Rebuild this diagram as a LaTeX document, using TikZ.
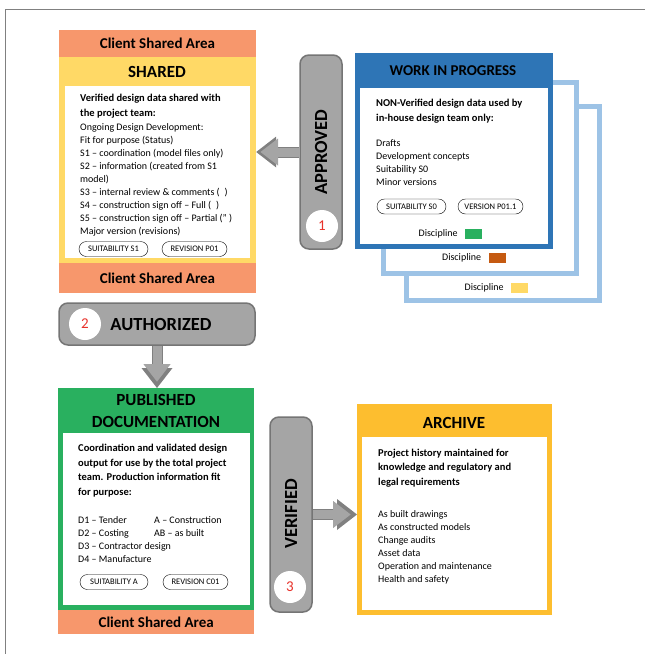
\documentclass[tikz,border=0pt]{standalone}
\usepackage{fontspec}
\setmainfont{Carlito}
\usetikzlibrary{arrows.meta,positioning}

\definecolor{csaorange}{HTML}{F7976C}
\definecolor{sharedyellow}{HTML}{FFD966}
\definecolor{wipblue}{HTML}{2E75B6}
\definecolor{ghostblue}{HTML}{9DC3E6}
\definecolor{pubgreen}{HTML}{29B05F}
\definecolor{archivegold}{HTML}{FDBE2F}
\definecolor{pillgrey}{HTML}{A5A5A5}
\definecolor{pillrim}{HTML}{757575}
\definecolor{badgered}{HTML}{E8312A}
\definecolor{swatchbrown}{HTML}{C55A11}
\definecolor{framegrey}{HTML}{808080}

\tikzset{
  panel/.style={rectangle, inner sep=0pt},
  band/.style={panel, fill=csaorange, minimum width=197pt, font=\bfseries\fontsize{15}{18}\selectfont},
  sheet/.style={panel, fill=white},
  boxtitle/.style={inner sep=0pt, align=center, font=\bfseries\fontsize{17}{22}\selectfont},
  % multi-line texts are placed by the baseline of their last line
  heading/.style={anchor=base west, inner sep=0pt, align=left, font=\bfseries\fontsize{10.5}{14.5}\selectfont},
  items/.style={anchor=base west, inner sep=0pt, align=left, font=\fontsize{10}{13}\selectfont},
  tag/.style={draw, rounded corners=7.5pt, minimum height=15pt, inner sep=1pt, font=\fontsize{8.5}{9}\selectfont},
  ghost/.style={panel, draw=ghostblue, line width=5pt, fill=white, anchor=north west},
  swatch/.style={panel, minimum width=17pt, minimum height=10pt},
  discipline/.style={inner sep=0pt, font=\fontsize{10}{12}\selectfont},
  pill/.style={draw=pillrim, fill=pillgrey, line width=1.5pt, rounded corners=9pt},
  pilllabel/.style={inner sep=0pt, font=\bfseries\fontsize{18.5}{20}\selectfont},
  badge/.style={circle, fill=white, minimum size=32pt, inner sep=0pt, text=badgered, font=\fontsize{15}{15}\selectfont},
  bigarrow/.style={line width=9pt, draw=pillgrey, shorten >=1.3pt,
    -{Triangle[width=27pt,length=17.5pt,line width=0pt]},
    preaction={draw=framegrey, line width=11pt, shorten >=0pt, -{Triangle[width=31pt,length=20pt,line width=0pt]}}}
}

\begin{document}
\begin{tikzpicture}[x=1pt,y=-1pt]
\useasboundingbox (0,0) rectangle (645,654);
\draw[framegrey, line width=1pt] (645,9) -- (5,9) -- (5,654);

% shared
\node[band, minimum height=27pt] (sharedtop) at (157.5,43.5) {Client Shared Area};
\node[panel, fill=sharedyellow, minimum width=197pt, minimum height=206pt] (shared) at (157.5,160) {};
\node[boxtitle] (sharedtitle) at (157,72) {SHARED};
\node[sheet, minimum width=185pt, minimum height=172pt] (sharedsheet) at (157.5,172) {};
\node[band, minimum height=30pt] (sharedbottom) at (157.5,278) {Client Shared Area};
\node[heading] (sharedhead) at (80,116) {Verified design data shared with\\the project team:};
\node[items] (shareditems) at (80,234) {Ongoing Design Development:\\Fit for purpose (Status)\\S1 -- coordination (model files only)\\S2 -- information (created from S1\\model)\\S3 -- internal review \& comments (\enspace)\\S4 -- construction sign off -- Full (\enspace)\\S5 -- construction sign off -- Partial (” )\\Major version (revisions)};
\node[tag, minimum width=69pt] (sharedsuit) at (113.5,249) {SUITABILITY S1};
\node[tag, minimum width=65pt] (sharedrev) at (194.5,249) {REVISION P01};

% work in progress, with the discipline copies behind
\node[ghost, minimum width=193pt, minimum height=194pt] (wipthird) at (403.5,103.5) {};
\node[ghost, minimum width=193pt, minimum height=191pt] (wipsecond) at (380.5,79.5) {};
\node[panel, fill=wipblue, minimum width=198pt, minimum height=196pt, anchor=north west] (wip) at (355,53) {};
\node[boxtitle, font=\bfseries\fontsize{15}{18}\selectfont] (wiptitle) at (453,71) {WORK IN PROGRESS};
\node[sheet, minimum width=188pt, minimum height=156pt, anchor=north west] (wipsheet) at (360,88) {};
\node[heading] (wiphead) at (376,121) {NON-Verified design data used by\\in-house design team only:};
\node[items] (wipitems) at (376,185) {Drafts\\Development concepts\\Suitability S0\\Minor versions};
\node[tag, minimum width=69pt] (wipsuit) at (411.5,206.5) {SUITABILITY S0};
\node[tag, minimum width=65pt] (wipver) at (490.5,206.5) {VERSION P01.1};
\node[swatch, fill=pubgreen] (swatchone) at (473.5,234) {};
\node[discipline, left=7pt of swatchone] (discone) {Discipline};
\node[swatch, fill=swatchbrown] (swatchtwo) at (497,258) {};
\node[discipline, left=7pt of swatchtwo] (disctwo) {Discipline};
\node[swatch, fill=sharedyellow] (swatchthree) at (519.5,287.5) {};
\node[discipline, left=7pt of swatchthree] (discthree) {Discipline};

% approved
\node[pill, minimum width=42pt, minimum height=194pt] (approved) at (321,152) {};
\node[pilllabel, rotate=90] (approvedlabel) at (321,152) {APPROVED};
\node[badge] (badgeone) at (322,226) {1};

% authorized
\node[pill, minimum width=196pt, minimum height=42pt] (authorized) at (157,324) {};
\node[pilllabel] (authorizedlabel) at (161,324) {AUTHORIZED};
\node[badge] (badgetwo) at (85,324) {2};

% published documentation
\node[panel, fill=pubgreen, minimum width=196pt, minimum height=222pt, anchor=north west] (published) at (58,388) {};
\node[boxtitle] (pubtitle) at (156,411) {PUBLISHED\\DOCUMENTATION};
\node[sheet, minimum width=187pt, minimum height=172pt, anchor=north west] (pubsheet) at (63,433) {};
\node[band, minimum width=196pt, minimum height=24pt, anchor=north west] (pubbottom) at (58,610) {Client Shared Area};
\node[heading] (pubhead) at (78,495) {Coordination and validated design\\output for use by the total project\\team. Production information fit\\for purpose:};
\node[items] (pubitems) at (78,562) {D1 -- Tender\\D2 -- Costing\\D3 -- Contractor design\\D4 -- Manufacture};
\node[items] (pubstages) at (154,536) {A -- Construction\\AB -- as built};
\node[tag, minimum width=68pt] (pubsuit) at (114,582) {SUITABILITY A};
\node[tag, minimum width=65pt] (pubrev) at (195.5,582) {REVISION C01};

% verified
\node[pill, minimum width=42pt, minimum height=195pt] (verified) at (291,514.5) {};
\node[pilllabel, rotate=90] (verifiedlabel) at (291,514) {VERIFIED};
\node[badge] (badgethree) at (290,587) {3};

% archive
\node[panel, fill=archivegold, minimum width=195pt, minimum height=211pt, anchor=north west] (archive) at (357,404) {};
\node[boxtitle] (archivetitle) at (454,423) {ARCHIVE};
\node[sheet, minimum width=185pt, minimum height=173pt, anchor=north west] (archivesheet) at (362,437) {};
\node[heading] (archivehead) at (378,485) {Project history maintained for\\knowledge and regulatory and\\legal requirements};
\node[items] (archiveitems) at (378,582) {As built drawings\\As constructed models\\Change audits\\Asset data\\Operation and maintenance\\Health and safety};

% hand-over arrows
\draw[bigarrow, shorten >=4.3pt, preaction={shorten >=3pt}] (approved.west) -- (approved.west -| shared.east);
\draw[bigarrow, shorten >=6.3pt, preaction={shorten >=5pt}] (authorized.south) -- (authorized.south |- published.north);
\draw[bigarrow, shorten >=6.3pt, preaction={shorten >=5pt}] (verified.east) -- (verified.east -| archive.west);
\end{tikzpicture}
\end{document}
